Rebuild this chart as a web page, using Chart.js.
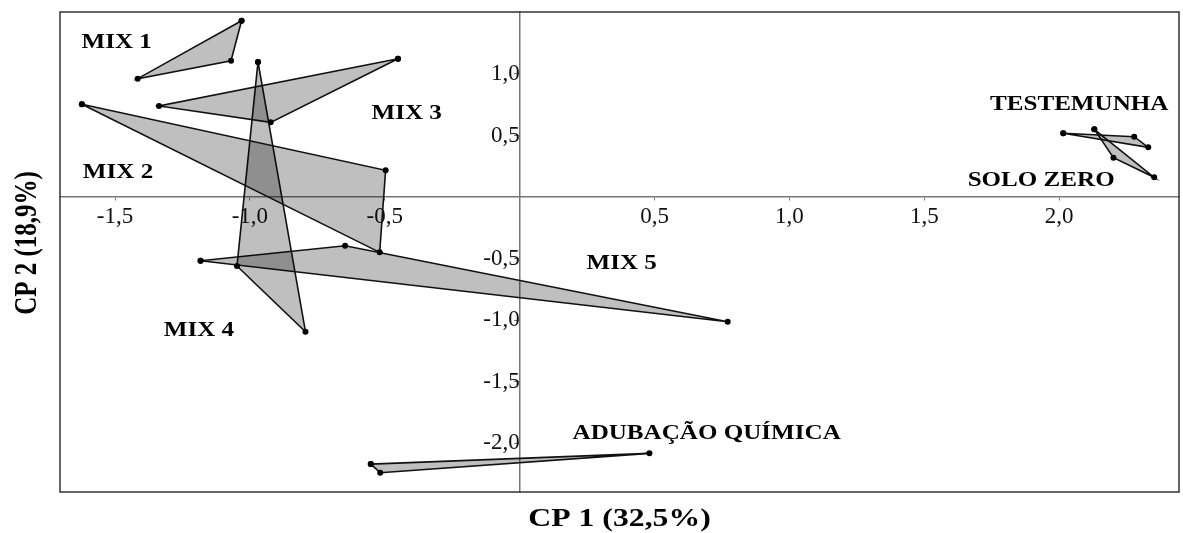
<!DOCTYPE html>
<html>
<head>
<meta charset="utf-8">
<script src="https://cdn.jsdelivr.net/npm/chart.js@4.4.1/dist/chart.umd.min.js"></script>
<style>
  body { margin: 0; background: #fff; }
</style>
</head>
<body>
<canvas id="pca" width="1183" height="533"></canvas>
<script>
// scores on CP1 / CP2, three replicates per treatment
const groups = ['MIX 1', 'MIX 2', 'MIX 3', 'MIX 4', 'MIX 5', 'TESTEMUNHA', 'SOLO ZERO', 'ADUBAÇÃO QUÍMICA'];
const mix1 = [[-1.031, 1.433], [-1.070, 1.108], [-1.416, 0.962]];
const mix2 = [[-1.623, 0.754], [-0.497, 0.217], [-0.519, -0.450]];
const mix3 = [[-0.451, 1.124], [-0.923, 0.607], [-1.337, 0.740]];
const mix4 = [[-0.970, 1.098], [-0.794, -1.095], [-1.048, -0.561]];
const mix5 = [[-1.183, -0.518], [-0.647, -0.396], [0.771, -1.014]];
const testemunha = [[2.015, 0.518], [2.278, 0.490], [2.330, 0.404]];
const soloZero = [[2.130, 0.550], [2.352, 0.160], [2.201, 0.320]];
const adubacao = [[-0.552, -2.171], [0.481, -2.084], [-0.517, -2.241]];
const series = [mix1, mix2, mix3, mix4, mix5, testemunha, soloZero, adubacao];

// tick values shown on each axis
const xTicks = [-1.5, -1.0, -0.5, 0.5, 1.0, 1.5, 2.0];
const yTicks = [1.0, 0.5, -0.5, -1.0, -1.5, -2.0];

// where each group name sits (CP1, CP2)
const labelAt = [[-1.494, 1.260], [-1.489, 0.203], [-0.419, 0.683], [-1.189, -1.081],
                 [0.378, -0.537], [2.074, 0.756], [1.933, 0.138], [0.693, -1.919]];

const xTitle = 'CP 1 (32,5%)';
const yTitle = 'CP 2 (18,9%)';

const fmt = v => v.toFixed(1).replace('.', ',');

const datasets = series.map((pts, i) => {
  const d = pts.map(p => ({ x: p[0], y: p[1] }));
  d.push(d[0]);
  return {
    label: groups[i],
    data: d,
    showLine: true,
    fill: 'shape',
    backgroundColor: 'rgba(0,0,0,0.25)',
    borderColor: '#111',
    borderWidth: 1.6,
    pointRadius: 3,
    pointBackgroundColor: '#000',
    pointBorderWidth: 0,
    tension: 0
  };
});

const extras = {
  id: 'extras',
  afterDraw(chart) {
    const { ctx, chartArea: a, scales } = chart;
    ctx.save();
    ctx.strokeStyle = '#333';
    ctx.lineWidth = 1.5;
    ctx.strokeRect(a.left, a.top, a.right - a.left, a.bottom - a.top);

    ctx.fillStyle = '#000';
    ctx.textAlign = 'center';
    ctx.textBaseline = 'middle';
    ctx.font = 'bold 22px "Liberation Serif"';
    labelAt.forEach((p, i) => {
      ctx.save();
      ctx.translate(scales.x.getPixelForValue(p[0]), scales.y.getPixelForValue(p[1]));
      ctx.scale(1.14, 1);
      ctx.fillText(groups[i], 0, 0);
      ctx.restore();
    });

    ctx.font = 'bold 25px "Liberation Serif"';
    ctx.save();
    ctx.translate((a.left + a.right) / 2, 520);
    ctx.scale(1.27, 1);
    ctx.fillText(xTitle, 0, 0);
    ctx.restore();

    ctx.save();
    ctx.translate(28, 243);
    ctx.scale(1.25, 1);
    ctx.rotate(-Math.PI / 2);
    ctx.fillText(yTitle, 0, 0);
    ctx.restore();
    ctx.restore();
  }
};

const tickFont = { family: 'Liberation Serif', size: 23 };

new Chart(document.getElementById('pca'), {
  type: 'scatter',
  data: { datasets: datasets },
  options: {
    responsive: false,
    animation: false,
    layout: { padding: { left: 60, top: 12, right: 3, bottom: 41 } },
    plugins: { legend: { display: false }, tooltip: { enabled: false } },
    scales: {
      x: {
        type: 'linear', min: -1.704, max: 2.444,
        position: { y: 0 },
        afterBuildTicks: s => { s.ticks = xTicks.map(v => ({ value: v })); },
        afterFit: s => { s.paddingLeft = 0; s.paddingRight = 0; },
        ticks: { callback: fmt, color: '#111', padding: 3, maxRotation: 0, autoSkip: false, font: tickFont },
        grid: { drawOnChartArea: false, drawTicks: true, tickLength: 3, color: '#777' },
        border: { color: '#777', width: 1.5 }
      },
      y: {
        type: 'linear', min: -2.398, max: 1.504,
        position: { x: 0 },
        afterBuildTicks: s => { s.ticks = yTicks.map(v => ({ value: v })); },
        afterFit: s => { s.paddingTop = 0; s.paddingBottom = 0; },
        ticks: { callback: fmt, color: '#111', padding: 1, autoSkip: false, font: tickFont },
        grid: { drawOnChartArea: false, drawTicks: true, tickLength: 5, color: '#777' },
        border: { color: '#777', width: 1.5 }
      }
    }
  },
  plugins: [extras]
});
</script>
</body>
</html>
